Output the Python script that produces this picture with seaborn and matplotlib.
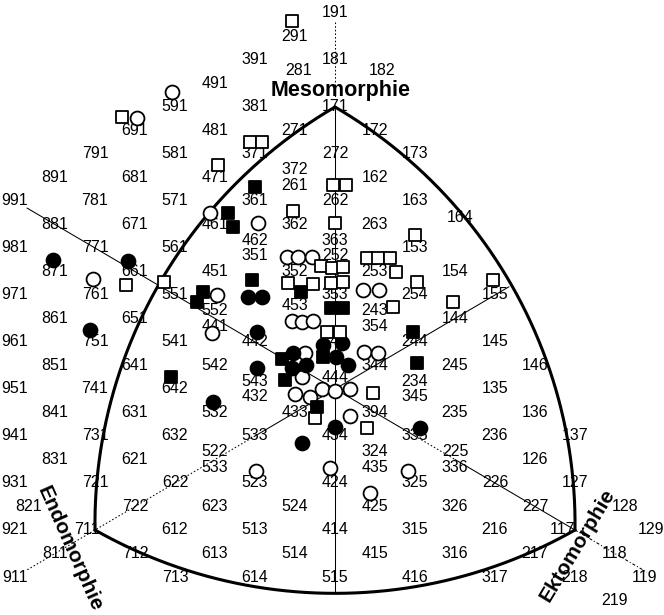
import numpy as np
import pandas as pd
import matplotlib
matplotlib.use("Agg")
import matplotlib.pyplot as plt
import seaborn as sns

sns.set_style("white")
plt.rcParams['font.family'] = ['Liberation Sans', 'DejaVu Sans']

# somatotype grid labels (endo, meso, ecto digits); placed by Heath-Carter X/Y
somatotypes = [
    "191", "291", "181", "391", "281", "182", "491", "381", "171", "591", "271", "172",
    "691", "481", "372", "272", "173", "791", "581", "371", "261", "162",
    "891", "681", "471", "361", "262", "163", "991", "781", "571", "461", "362", "263", "164",
    "881", "671", "462", "363", "153", "981", "771", "561", "351", "252",
    "871", "661", "451", "352", "253", "154", "971", "761", "551", "552", "453", "353", "243",
    "254", "155", "861", "651", "441", "354", "144", "961", "751", "541", "442", "343", "244", "145",
    "851", "641", "542", "543", "344", "245", "146", "951", "741", "642", "432", "444", "234",
    "135", "345", "841", "631", "532", "433", "334", "235", "136", "941", "731", "632", "533",
    "434", "335", "236", "137", "831", "621", "522", "633", "324", "435", "225", "336", "126",
    "931", "721", "622", "523", "424", "325", "226", "127", "821", "722", "623", "524", "425",
    "326", "227", "128", "921", "711", "612", "513", "414", "315", "216", "117", "129",
    "811", "712", "613", "514", "415", "316", "217", "118", "911", "713", "614", "515", "416",
    "317", "218", "119", "219",
]
# printed text differs from the grid position in the original figure
misprints = {"334": "394", "633": "533"}
# small label shifts (chart units) seen in the original
nudges = {"281": (0.1, 0.57), "182": (0.18, 0.55), "453": (0.0, 0.57), "444": (0.0, 0.5),
          "821": (-0.67, 0.0), "164": (0.12, 0.28), "128": (0.25, 0.0), "117": (-0.3, 0.0),
          "711": (-0.2, 0.0), "129": (-0.1, 0.0), "119": (-0.25, 0.0)}

# individual somatotypes (X = ecto - endo, Y = 2*meso - endo - ecto)
open_circle_x = [-4.08, -4.95, -3.13, -1.93, -1.20, -0.93, -0.58, -2.95, -6.05, -3.08, -1.08,
                 -0.83, -0.55, 0.70, 1.10, -0.75, -0.83, 0.73, 1.08, -0.33, 0.00, 0.38, -1.00,
                 -0.63, 0.38, -0.13, 1.83, 0.88, -1.98]
open_circle_y = [12.64, 11.53, 7.49, 7.06, 5.62, 5.62, 5.62, 4.00, 4.68, 2.38, 2.89,
                 2.85, 2.89, 4.21, 4.21, 1.53, 0.51, 1.57, 1.53, 0.00, -0.09, 0.00, -0.21,
                 -0.34, -1.15, -3.36, -3.49, -4.43, -3.49]
filled_circle_x = [-7.05, -5.18, -2.18, -1.83, -6.13, -1.95, -1.95, -3.05, -1.05, -1.08,
                   -0.73, -0.30, 0.18, 0.03, 0.33, 0.00, -0.83, 2.13]
filled_circle_y = [5.49, 5.45, 3.91, 3.91, 2.51, 2.43, 0.89, -0.55, 1.53, 0.89,
                   1.02, 1.87, 1.96, 1.36, 1.02, -1.62, -2.30, -1.66]
open_square_x = [-1.08, -5.33, -2.13, -1.83, -2.93, -0.05, 0.28, -1.05, 0.00, 2.00, 0.80,
                 1.08, 1.38, 1.53, -0.35, -0.08, 0.20, -1.18, -0.55, -0.10, 0.20, 1.45,
                 2.05, 2.95, 3.95, -4.28, -5.23, -0.20, 0.13, 0.95, -0.50, 0.80]
open_square_y = [15.66, 11.57, 10.51, 10.51, 9.53, 8.68, 8.68, 7.57, 7.06, 6.55, 5.57,
                 5.57, 5.57, 4.98, 5.23, 5.15, 5.19, 4.51, 4.47, 4.51, 4.55, 3.49,
                 4.55, 3.70, 4.64, 4.55, 4.43, 2.43, 2.43, -0.17, -1.23, -1.66]
filled_square_x = [-2.00, -2.68, -2.55, -2.08, -3.30, -3.45, -0.85, -0.10, 0.20, -1.33,
                   -1.25, -0.30, -0.45, 1.95, 2.05, -4.10]
filled_square_y = [8.60, 7.49, 6.89, 4.64, 4.13, 3.70, 4.13, 3.45, 3.45, 1.28,
                   0.38, 1.36, -0.77, 2.43, 1.11, 0.51]

axis_titles = ["Mesomorphie", "Endomorphie", "Ektomorphie"]

W, H = 664, 615
fig = plt.figure(figsize=(W / 100, H / 100), dpi=100)
ax = fig.add_axes([0, 0, 1, 1])
xlim = (-8.375, 8.225)
ylim = (-9.617, 16.553)
ax.set_xlim(*xlim)
ax.set_ylim(*ylim)
ax.axis("off")

# ratio of pixel scale y/x, so arcs are circular on screen
k = (H / (ylim[1] - ylim[0])) / (W / (xlim[1] - xlim[0]))


def soma_xy(code):
    i, m, e = (int(c) for c in code)
    return e - i, 2 * m - i - e


def arc(A, B, C, n=300):
    A = np.array([A[0], A[1] * k]); B = np.array([B[0], B[1] * k]); C = np.array([C[0], C[1] * k])
    a0 = np.arctan2(*(A - C)[::-1]); a1 = np.arctan2(*(B - C)[::-1])
    r0 = np.hypot(*(A - C)); r1 = np.hypot(*(B - C))
    t = np.linspace(0, 1, n)
    ang = a0 + (a1 - a0) * t
    r = r0 + (r1 - r0) * t
    return C[0] + r * np.cos(ang), (C[1] + r * np.sin(ang)) / k


T, L, R = soma_xy("171"), soma_xy("711"), soma_xy("117")
for A, B, C in [(T, L, R), (L, R, T), (R, T, L)]:
    xs, ys = arc(A, B, C)
    ax.plot(xs, ys, color="black", lw=2.2, zorder=3, solid_capstyle="round")

# axis lines through the centre
thin = dict(color="black", lw=0.75, zorder=1)
ax.plot([0, 0], [15.6, 12.4], ls=(0, (1.5, 2)), **thin)
ax.plot([0, 0], [12.0, -8.7], ls="-", **thin)
ax.plot([-7.7, 2.0], [7.7, -2.0], ls="-", **thin)
ax.plot([2.0, 3.0], [-2.0, -3.0], ls=(0, (1.5, 2)), **thin)
ax.plot([3.0, 6.0], [-3.0, -6.0], ls="-", **thin)
ax.plot([6.0, 7.8], [-6.0, -7.8], ls=(0, (3, 2, 1, 2)), **thin)
ax.plot([4.35, -2.0], [4.35, -2.0], ls="-", **thin)
ax.plot([-2.0, -7.7], [-2.0, -7.7], ls=(0, (1.5, 2)), **thin)

# grid labels
positions = [soma_xy(c) for c in somatotypes]
groups = {}
for c, p in zip(somatotypes, positions):
    groups.setdefault(p, []).append(c)
for c, (x, y) in zip(somatotypes, positions):
    g = groups[(x, y)]
    j = g.index(c)
    dy = ((len(g) - 1) / 2 - j) * 0.66
    nx, ny = nudges.get(c, (0.0, 0.0))
    ax.text(x + nx, y + dy + ny, misprints.get(c, c), ha="center", va="center",
            fontsize=11.5, color="black", zorder=2)

# axis titles
ax.text(0.15, 12.72, axis_titles[0], ha="center", va="center", fontsize=15.5,
        fontweight="bold", color="black", zorder=5)
ax.text(-6.63, -6.8, axis_titles[1], ha="center", va="center", fontsize=15,
        fontweight="bold", color="black", rotation=-66, zorder=5)
ax.text(6.05, -6.64, axis_titles[2], ha="center", va="center", fontsize=15,
        fontweight="bold", color="black", rotation=59, zorder=5)

frames = []
for name, xs, ys in [("oc", open_circle_x, open_circle_y), ("fc", filled_circle_x, filled_circle_y),
                     ("os", open_square_x, open_square_y), ("fs", filled_square_x, filled_square_y)]:
    frames.append(pd.DataFrame({"X": xs, "Y": ys, "group": name}))
df = pd.concat(frames, ignore_index=True)

styles = {"oc": ("o", "white", 100), "fc": ("o", "black", 100),
          "os": ("s", "white", 78), "fs": ("s", "black", 78)}
for g, (m, fc, s) in styles.items():
    sub = df[df["group"] == g]
    sns.scatterplot(data=sub, x="X", y="Y", marker=m, s=s, facecolor=fc,
                    edgecolor="black", linewidth=1.3, ax=ax, zorder=4, legend=False)

ax.set_xlim(*xlim)
ax.set_ylim(*ylim)
ax.set_xlabel("")
ax.set_ylabel("")
fig.savefig("out.png", dpi=100)
